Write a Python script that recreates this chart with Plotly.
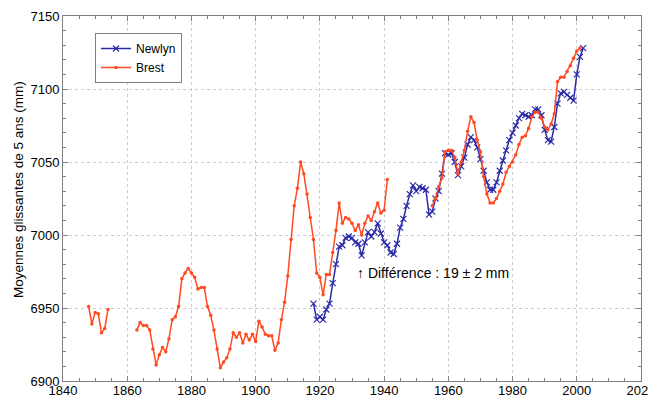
import plotly.graph_objects as go

# ---- Data (5-year running means, mm) ----
newlyn_years = list(range(1918, 2003))
newlyn_values = [
    6953, 6942, 6944, 6942, 6949, 6953, 6967, 6980, 6992, 6993,   # 1918-1927
    6998, 6999, 6998, 6995, 6994, 6986, 6995, 7002, 6999, 7002,   # 1928-1937
    7008, 7001, 6995, 6993, 6988, 6987, 6994, 7005, 7011, 7020,   # 1938-1947
    7028, 7034, 7030, 7033, 7032, 7031, 7014, 7016, 7025, 7030,   # 1948-1957
    7042, 7056, 7055, 7056, 7050, 7041, 7047, 7053, 7062, 7067,   # 1958-1967
    7065, 7060, 7052, 7044, 7036, 7031, 7031, 7036, 7044, 7051,   # 1968-1977
    7058, 7065, 7070, 7075, 7080, 7083, 7082, 7081, 7082, 7086,   # 1978-1987
    7086, 7082, 7072, 7065, 7064, 7074, 7090, 7097, 7098, 7096,   # 1988-1997
    7094, 7092, 7110, 7122, 7128,                                 # 1998-2002
]

brest_seg1_years = list(range(1848, 1855))
brest_seg1_values = [6951, 6939, 6947, 6946, 6933, 6936, 6949]

brest_seg2_years = list(range(1863, 1942))
brest_seg2_values = [
    6935, 6940, 6938, 6938, 6935, 6922, 6911, 6918, 6923, 6920,   # 1863-1872
    6929, 6942, 6944, 6951, 6970, 6974, 6977, 6974, 6971, 6963,   # 1873-1882
    6964, 6964, 6951, 6945, 6935, 6922, 6909, 6913, 6916, 6922,   # 1883-1892
    6933, 6930, 6933, 6926, 6932, 6928, 6932, 6927, 6941, 6937,   # 1893-1902
    6932, 6931, 6931, 6921, 6926, 6942, 6954, 6972, 6997, 7020,   # 1903-1912
    7032, 7050, 7042, 7028, 7012, 6997, 6974, 6971, 6959, 6973,   # 1913-1922
    6973, 6988, 7003, 7022, 7008, 7012, 7011, 7008, 7003, 7007,   # 1923-1932
    7000, 7008, 7013, 7010, 7016, 7022, 7015, 7017, 7038,         # 1933-1941
]

brest_seg3_years = list(range(1955, 2002))
brest_seg3_values = [
    7020, 7025, 7033, 7039, 7057, 7058, 7058, 7053, 7042, 7050,   # 1955-1964
    7058, 7071, 7081, 7077, 7065, 7057, 7040, 7028, 7022, 7022,   # 1965-1974
    7025, 7030, 7035, 7043, 7047, 7050, 7055, 7062, 7067, 7068,   # 1975-1984
    7073, 7081, 7084, 7084, 7080, 7074, 7072, 7076, 7083, 7105,   # 1985-1994
    7108, 7108, 7112, 7116, 7121, 7126, 7128,                     # 1995-2001
]

x_ticks = list(range(1840, 2021, 20))
y_ticks = list(range(6900, 7151, 50))

# gaps between Brest segments
brest_years = brest_seg1_years + [None] + brest_seg2_years + [None] + brest_seg3_years
brest_values = brest_seg1_values + [None] + brest_seg2_values + [None] + brest_seg3_values

BLUE = "#2b2ba8"
RED = "#ff4a22"
FONT = "Liberation Sans, Arial, sans-serif"

# page offset of the figure (browser body margin)
OFF = 8
W, H = 656 - OFF, 396 - OFF
# plot area in page pixels from the reference
PL, PR, PT, PB = 63, 641, 16, 381
L = PL - OFF
R = W - (PR - OFF)
T = PT - OFF
B = H - (PB - OFF)
PW, PH = W - L - R, H - T - B


def px_to_paper(xp, yp):
    """page-pixel position -> paper coords"""
    return ((xp - OFF) - L) / PW, (H - B - (yp - OFF)) / PH


fig = go.Figure()
fig.add_trace(go.Scatter(
    x=newlyn_years, y=newlyn_values, name="Newlyn",
    mode="lines+markers",
    line=dict(color=BLUE, width=1.5),
    marker=dict(symbol="x-thin", size=6, color=BLUE, line=dict(color=BLUE, width=1.2)),
))
fig.add_trace(go.Scatter(
    x=brest_years, y=brest_values, name="Brest",
    mode="lines+markers", connectgaps=False,
    line=dict(color=RED, width=1.5),
    marker=dict(symbol="circle", size=3.5, color=RED),
))

fig.add_annotation(
    x=1931, y=6974, xref="x", yref="y",
    text="\u2191 Différence : 19 \u00b1 2 mm",
    showarrow=False, xanchor="left", yanchor="middle",
    font=dict(family=FONT, size=14, color="black"),
)

tx, ty = px_to_paper(18, 190)
fig.add_annotation(
    x=tx, y=ty, xref="paper", yref="paper",
    text="Moyennes glissantes de 5 ans (mm)", textangle=-90,
    showarrow=False, xanchor="center", yanchor="middle",
    font=dict(family=FONT, size=13.5, color="black"),
)

axis_common = dict(
    showline=True, linecolor="#808080", linewidth=1, mirror="allticks",
    ticks="inside", ticklen=5, tickcolor="#808080",
    showgrid=True, gridcolor="#cccccc", griddash="dot", gridwidth=1,
    zeroline=False, automargin=False,
    tickfont=dict(family=FONT, size=13, color="black"),
)

fig.update_xaxes(
    range=[1840, 2020], tickvals=x_ticks, ticktext=[str(v) for v in x_ticks],
    minor=dict(dtick=5, ticklen=3, tickcolor="#808080", ticks="inside", showgrid=False),
    ticklabelstandoff=-3,
    **axis_common,
)
fig.update_yaxes(
    range=[6900, 7150], tickvals=y_ticks, ticktext=[str(v) for v in y_ticks],
    minor=dict(dtick=10, ticklen=3, tickcolor="#808080", ticks="inside", showgrid=False),
    **axis_common,
)

lx, ly = px_to_paper(95, 33)
fig.update_layout(
    width=W, height=H,
    margin=dict(l=L, r=R, t=T, b=B, autoexpand=False),
    paper_bgcolor="white", plot_bgcolor="white",
    showlegend=True,
    legend=dict(
        x=lx, y=ly, xanchor="left", yanchor="top",
        bgcolor="white", bordercolor="#808080", borderwidth=1,
        font=dict(family=FONT, size=12, color="black"),
        itemwidth=30, tracegroupgap=0,
    ),
)

fig.write_html("out.html")
